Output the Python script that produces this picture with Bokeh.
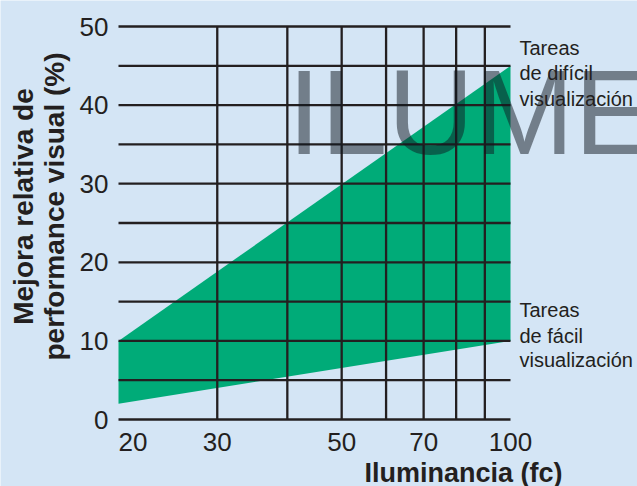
import math
from bokeh.plotting import figure
from bokeh.models import Range1d, Label, LogScale
from bokeh.core.properties import value
from bokeh.embed import file_html
from bokeh.resources import INLINE

# ---- data ----
illuminance = [20, 100]           # fc
dificil = [10, 45]                # upper edge: difficult tasks (%)
facil = [2, 10]                   # lower edge: easy tasks (%)
x_ticks = [20, 30, 50, 70, 100]
x_tick_labels = ["20", "30", "50", "70", "100"]
y_ticks = [0, 10, 20, 30, 40, 50]
y_tick_labels = ["0", "10", "20", "30", "40", "50"]
h_lines = [0, 5, 10, 15, 20, 25, 30, 35, 40, 45, 50]
v_lines = [30, 40, 50, 60, 70, 80, 90]

BG = "#d4e5f5"
INK = "#231f20"
GREEN = "#00ab78"
FONT = "Liberation Sans"

W, H = 637, 486
# pixel geometry of the data area (x: 20 -> 118, 100 -> 510 ; y: 0 -> 419, 50 -> 26)
PX_L, PX_R, PY_B, PY_T = 118, 510, 419, 26
LX0, LX1 = math.log10(illuminance[0]), math.log10(illuminance[-1])


def px2x(px):
    return 10 ** (LX0 + (px - PX_L) / (PX_R - PX_L) * (LX1 - LX0))


def px2y(py):
    return h_lines[0] + (PY_B - py) / (PY_B - PY_T) * (h_lines[-1] - h_lines[0])


p = figure(width=W, height=H,
           x_range=Range1d(px2x(0), px2x(W)), y_range=Range1d(px2y(H), px2y(0)),
           x_axis_location=None, y_axis_location=None,
           output_backend="svg", toolbar_location=None,
           min_border=0)
p.x_scale = LogScale()
p.background_fill_color = BG
p.border_fill_color = BG
p.outline_line_color = None
p.grid.grid_line_color = None

# green band
p.patch(illuminance + illuminance[::-1], dificil + facil[::-1],
        fill_color=GREEN, line_color=None)

# grid lines above the band
p.segment(x0=[illuminance[0]] * len(h_lines), x1=[illuminance[-1]] * len(h_lines),
          y0=h_lines, y1=h_lines, line_color=INK, line_width=2.3)
p.segment(x0=v_lines, x1=v_lines, y0=[h_lines[0]] * len(v_lines), y1=[h_lines[-1]] * len(v_lines),
          line_color=INK, line_width=2.3)

# y tick labels
p.text(x=[px2x(108)] * len(y_ticks), y=y_ticks, text=y_tick_labels,
       text_align="right", text_baseline="middle", text_font=value(FONT),
       text_font_size=value("26px"), text_color=INK)
# x tick labels (first one left-aligned at the frame edge)
p.text(x=x_ticks[1:], y=[px2y(441.5)] * (len(x_ticks) - 1), text=x_tick_labels[1:],
       text_align="center", text_baseline="middle", text_font=value(FONT),
       text_font_size=value("26px"), text_color=INK)
p.text(x=x_ticks[:1], y=[px2y(441.5)], text=x_tick_labels[:1],
       text_align="left", text_baseline="middle", text_font=value(FONT),
       text_font_size=value("26px"), text_color=INK)

# watermark
p.add_layout(Label(x=px2x(287), y=px2y(111.5), text="ILUME", text_align="left",
                   text_baseline="middle", text_font=FONT, text_font_size="120px",
                   text_color="#101820", text_alpha=0.5))

# right-hand annotations
for txt, cy in [("Tareas", 47), ("de difícil", 72.5), ("visualización", 98),
                ("Tareas", 309.5), ("de fácil", 335.5), ("visualización", 359.5)]:
    p.add_layout(Label(x=px2x(519), y=px2y(cy), text=txt, text_align="left",
                       text_baseline="middle", text_font=FONT, text_font_size="20px",
                       text_color=INK))

# axis titles
p.add_layout(Label(x=px2x(562), y=px2y(472), text="Iluminancia (fc)", text_align="right",
                   text_baseline="middle", text_font=FONT, text_font_size="27px",
                   text_font_style="bold", text_color=INK))
for txt, cx in [("Mejora relativa de", 22.5), ("performance visual (%)", 53.5)]:
    p.add_layout(Label(x=px2x(cx), y=px2y(206), text=txt, angle=math.pi / 2,
                       text_align="center", text_baseline="middle", text_font=FONT,
                       text_font_size="28px", text_font_style="bold", text_color=INK))

html = file_html(p, INLINE)
html = html.replace("<body>", '<body style="background-color:%s;">' % BG, 1)
open("out.html", "w").write(html)
